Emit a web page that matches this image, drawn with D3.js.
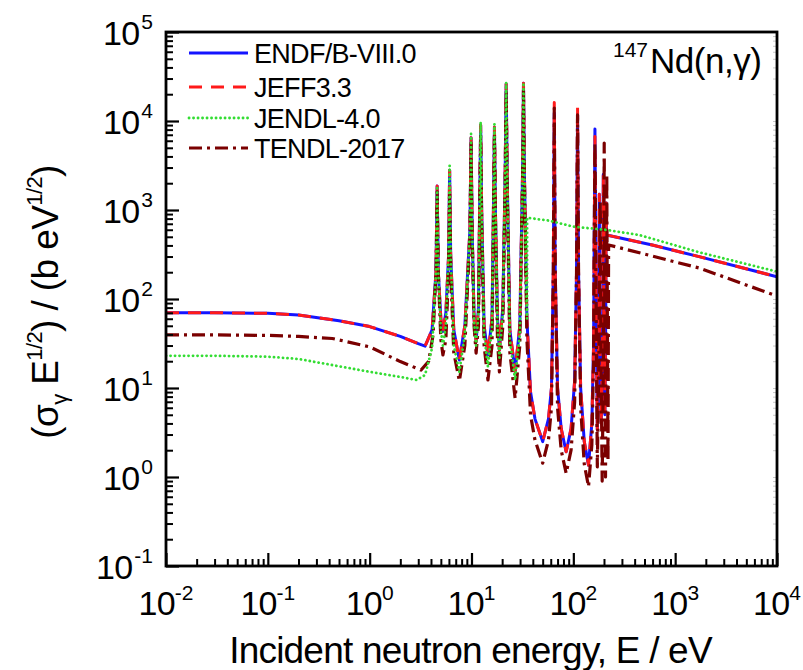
<!DOCTYPE html>
<html><head><meta charset="utf-8">
<script src="https://cdn.jsdelivr.net/npm/d3@7"></script>
<style>
body{margin:0;background:#fff}
svg{display:block}
text{font-family:"Liberation Sans",Arial,Helvetica,sans-serif;fill:#000}
</style>
</head><body>
<svg id="chart" width="803" height="670"></svg>
<script>
// ---------------- data ----------------
const seriesNames = ["ENDF/B-VIII.0", "JEFF3.3", "JENDL-4.0", "TENDL-2017"];
const xTickExps = [-2, -1, 0, 1, 2, 3, 4];
const yTickExps = [-1, 0, 1, 2, 3, 4, 5];

// [energy eV, sigma*E^1/2 (b eV^1/2)]
const endfData = [
 [0.01,70],[0.03,70],[0.1,69],[0.2,66],[0.5,57],[1,49],[2,38],[3,31.5],[3.5,29.5],[4.1,45],
 [4.48,200],[4.6,1860],[4.72,200],[5.0,60],[5.24,43],[5.6,70],[5.95,300],[6.1,2800],[6.25,300],[6.7,45],
 [7.6,20.6],[8.6,50],[9.65,600],[9.9,6500],[10.15,600],[10.6,60],[11.1,33],[11.7,80],[12.0,900],[12.3,9000],
 [12.6,900],[13.3,50],[14.5,23.5],[15.9,60],[16.4,900],[16.8,8500],[17.2,900],[18.0,60],[18.8,26.7],[20.3,80],
 [21.4,2500],[21.9,26000],[22.4,2500],[23.8,45],[26.8,15.2],[29.8,50],[31.7,2500],[32.4,26500],[33.1,2500],[35,60],
 [38,9],[42,4.5],[50,2.5],[57,4.5],[61,10],[63.6,200],[65,12300],[66.4,200],[70,10],[76,3.5],
 [85,1.92],[95,3.5],[103,12],[107.5,200],[110,12000],[112.5,200],[118,10],[128,2.5],[141,1.36],[152,4],
 [158,30],[160,300],[163,8130],[166,300],[172,3.4],[178,40],[180,1500],[182,40],[188,4],[195,60],
 [197,2500],[199,60],[204,5],[208,60],[210,1200],[212,524],[596,404],[1718,299],[10000,178]
];
const jeffData = [
 [0.01,70],[0.03,70],[0.1,69],[0.2,66],[0.5,57],[1,49],[2,38],[3,31.5],[3.5,29.5],[4.1,45],
 [4.48,200],[4.6,1860],[4.72,200],[5.0,60],[5.24,43],[5.6,70],[5.95,300],[6.1,2800],[6.25,300],[6.7,45],
 [7.6,20.6],[8.6,50],[9.65,600],[9.9,6500],[10.15,600],[10.6,60],[11.1,33],[11.7,80],[12.0,900],[12.3,9000],
 [12.6,900],[13.3,50],[14.5,23.5],[15.9,60],[16.4,900],[16.8,8500],[17.2,900],[18.0,60],[18.8,26.7],[20.3,80],
 [21.4,2500],[21.9,26000],[22.4,2500],[23.8,45],[26.8,15.2],[29.8,50],[31.7,2500],[32.4,26500],[33.1,2500],[35,60],
 [38,9],[42,4.5],[50,2.5],[57,4.5],[61,10],[63.6,200],[65,16100],[66.4,200],[70,10],[76,3.5],
 [85,1.92],[95,3.5],[103,12],[107.5,200],[110,14500],[112.5,200],[118,10],[128,2.5],[141,1.36],[152,4],
 [158,30],[160,300],[163,6700],[166,300],[172,3.4],[178,40],[180,1500],[182,40],[188,4],[195,60],
 [197,2500],[199,60],[204,5],[208,60],[210,1200],[212,524],[596,404],[1718,299],[10000,178]
];
const jendlData = [
 [0.01,23],[0.03,23],[0.1,22.5],[0.2,21.2],[0.43,18.1],[1,15.2],[2,13.3],[2.9,12.3],[3.5,14],[4.1,28],
 [4.48,200],[4.6,1860],[4.72,200],[5.0,45],[5.24,30],[5.6,50],[5.95,300],[6.1,3150],[6.25,300],[6.7,30],
 [7.6,15.2],[8.6,40],[9.65,600],[9.9,7150],[10.15,600],[10.6,55],[11.1,30],[11.7,70],[12.0,900],[12.3,9750],
 [12.6,900],[13.3,40],[14.5,17.4],[15.9,50],[16.4,900],[16.8,9250],[17.2,900],[18.0,50],[18.8,22],[20.3,70],
 [21.4,2500],[21.9,27000],[22.4,2500],[23.8,35],[26.8,12.3],[29.8,40],[31.7,2500],[32.4,27000],[33.1,2500],[34.2,200],
 [35.1,60],[35.2,818],[58,759],[100,650],[206,600],[444,524],[1718,335],[10000,203]
];
const tendlData = [
 [0.01,39.5],[0.03,39.5],[0.1,39],[0.2,38],[0.43,36],[1,29],[2,19.8],[3.2,15.9],[3.8,20],[4.2,40],
 [4.48,200],[4.6,1600],[4.72,200],[5.0,35],[5.24,23.5],[5.6,35],[5.95,200],[6.1,1600],[6.25,200],[6.7,25],
 [7.6,12],[8.6,30],[9.65,500],[9.9,5660],[10.15,500],[10.6,50],[11.1,24.7],[11.7,50],[12.0,700],[12.3,7300],
 [12.6,700],[13.3,30],[14.5,12.3],[15.9,30],[16.4,700],[16.8,7300],[17.2,700],[18.0,35],[18.8,15.2],[20.3,50],
 [21.4,2000],[21.9,22300],[22.4,2000],[23.8,25],[26.8,7.7],[29.8,30],[31.7,2000],[32.4,22000],[33.1,2000],[35,35],
 [38,5],[42,2.6],[50,1.43],[57,2.6],[61,6],[63.6,200],[65,14000],[66.4,200],[70,6],[76,2],
 [85,1.1],[95,2],[103,7],[107.5,200],[110,11700],[112.5,200],[118,6],[128,1.4],[141,0.78],[152,2.3],
 [158,20],[160,300],[163,5700],[166,300],[172,1.3],[178,20],[184,1290],[187,20],[192,0.9],[198,30],
 [201,5660],[204,30],[207,1.0],[210,50],[213,2500],[216,50],[219,1.5],[222,405],[1718,223],[10000,108]
];

// ---------------- styles ----------------
const seriesColors = ["#1414ff", "#ff1a1a", "#33dd33", "#7a0000"];
const seriesDash = [null, "13,9", "0.1,4.4", "13,5,3,5"];
const seriesWidth = [3, 3, 2.8, 3.2];
const seriesCaps = ["butt", "butt", "round", "butt"];
const drawOrder = [0, 1, 3, 2];

// ---------------- layout ----------------
const L = 166, R = 777, T = 32, B = 566;
const svg = d3.select("#chart");
const x = d3.scaleLog().domain([1e-2, 1e4]).range([L, R]);
const y = d3.scaleLog().domain([1e-1, 1e5]).range([B, T]);

svg.append("defs").append("clipPath").attr("id", "clip")
  .append("rect").attr("x", L).attr("y", T).attr("width", R - L).attr("height", B - T);

const allData = [endfData, jeffData, jendlData, tendlData];
const line = d3.line().x(d => x(d[0])).y(d => y(d[1]));
const plot = svg.append("g").attr("clip-path", "url(#clip)");
drawOrder.forEach(i => {
  plot.append("path").datum(allData[i])
    .attr("d", line).attr("fill", "none")
    .attr("stroke", seriesColors[i]).attr("stroke-width", seriesWidth[i])
    .attr("stroke-dasharray", seriesDash[i]).attr("stroke-linecap", seriesCaps[i])
    .attr("stroke-linejoin", "round");
});

// ---------------- axes ----------------
const majorX = xTickExps.map(e => Math.pow(10, e));
const minorX = [];
xTickExps.slice(0, -1).forEach(e => { for (let k = 2; k <= 9; k++) minorX.push(k * Math.pow(10, e)); });
const majorY = yTickExps.map(e => Math.pow(10, e));
const minorY = [];
yTickExps.slice(0, -1).forEach(e => { for (let k = 2; k <= 9; k++) minorY.push(k * Math.pow(10, e)); });

function styleAxis(g, w, col) {
  g.select(".domain").remove();
  g.selectAll("line").attr("stroke", col || "#000").attr("stroke-width", w);
  g.selectAll("text").remove();
}
svg.append("g").attr("transform", `translate(0,${B})`)
  .call(d3.axisBottom(x).tickValues(majorX).tickSize(-13).tickFormat(""))
  .call(g => styleAxis(g, 2.2));
svg.append("g").attr("transform", `translate(0,${B})`)
  .call(d3.axisBottom(x).tickValues(minorX).tickSize(-7).tickFormat(""))
  .call(g => styleAxis(g, 2));
svg.append("g").attr("transform", `translate(${L},0)`)
  .call(d3.axisLeft(y).tickValues(majorY).tickSize(-13).tickFormat(""))
  .call(g => styleAxis(g, 2.2));
svg.append("g").attr("transform", `translate(${L},0)`)
  .call(d3.axisLeft(y).tickValues(minorY).tickSize(-7).tickFormat(""))
  .call(g => styleAxis(g, 2));
// faint ticks on the right edge
svg.append("g").attr("transform", `translate(${R},0)`)
  .call(d3.axisLeft(y).tickValues(majorY.concat(minorY)).tickSize(4).tickFormat(""))
  .call(g => styleAxis(g, 1, "#c8c8c8"));

// frame
svg.append("rect").attr("x", L).attr("y", T).attr("width", R - L).attr("height", B - T)
  .attr("fill", "none").attr("stroke", "#000").attr("stroke-width", 2.8);

// tick labels
xTickExps.forEach(e => {
  const t = svg.append("text").attr("x", x(Math.pow(10, e))).attr("y", 615)
    .attr("text-anchor", "middle").attr("font-size", 34).attr("letter-spacing", -0.8);
  t.append("tspan").text("10");
  t.append("tspan").attr("dy", -15).attr("font-size", 21).attr("letter-spacing", 0).text(String(e));
});
yTickExps.forEach(e => {
  const t = svg.append("text").attr("x", 153).attr("y", y(Math.pow(10, e)) + 13)
    .attr("text-anchor", "end").attr("font-size", 34).attr("letter-spacing", -0.8);
  t.append("tspan").text("10");
  t.append("tspan").attr("dy", -16).attr("dx", 2).attr("font-size", 21).attr("letter-spacing", 0).text(String(e));
});

// axis titles
svg.append("text").attr("x", (L + R) / 2 - 1).attr("y", 663).attr("text-anchor", "middle")
  .attr("font-size", 37).attr("letter-spacing", -0.8).text("Incident neutron energy, E / eV");

const yt = svg.append("text").attr("transform", "translate(58,302) rotate(-90)")
  .attr("text-anchor", "middle").attr("font-size", 37).attr("letter-spacing", -0.6);
yt.append("tspan").text("(σ");
yt.append("tspan").attr("dy", 9).attr("font-size", 22).text("γ");
yt.append("tspan").attr("dy", -9).text(" E");
yt.append("tspan").attr("dy", -16).attr("font-size", 22).text("1/2");
yt.append("tspan").attr("dy", 16).text(") / (b eV");
yt.append("tspan").attr("dy", -16).attr("font-size", 22).text("1/2");
yt.append("tspan").attr("dy", 16).text(")");

// annotation
const an = svg.append("text").attr("x", 613).attr("y", 73).attr("font-size", 35).attr("letter-spacing", -0.5);
an.append("tspan").attr("dy", -16).attr("font-size", 21).attr("letter-spacing", 0).text("147");
an.append("tspan").attr("dy", 16).attr("dx", 2).text("Nd(n,γ)");

// legend
const legendY = [53, 87, 118, 148];
seriesNames.forEach((name, i) => {
  svg.append("line").attr("x1", 189).attr("x2", 248).attr("y1", legendY[i]).attr("y2", legendY[i])
    .attr("stroke", seriesColors[i]).attr("stroke-width", seriesWidth[i])
    .attr("stroke-dasharray", seriesDash[i]).attr("stroke-linecap", seriesCaps[i]);
  svg.append("text").attr("x", 254).attr("y", legendY[i] + 10).attr("font-size", 27)
    .attr("letter-spacing", -0.7).text(name);
});
</script>
</body></html>
